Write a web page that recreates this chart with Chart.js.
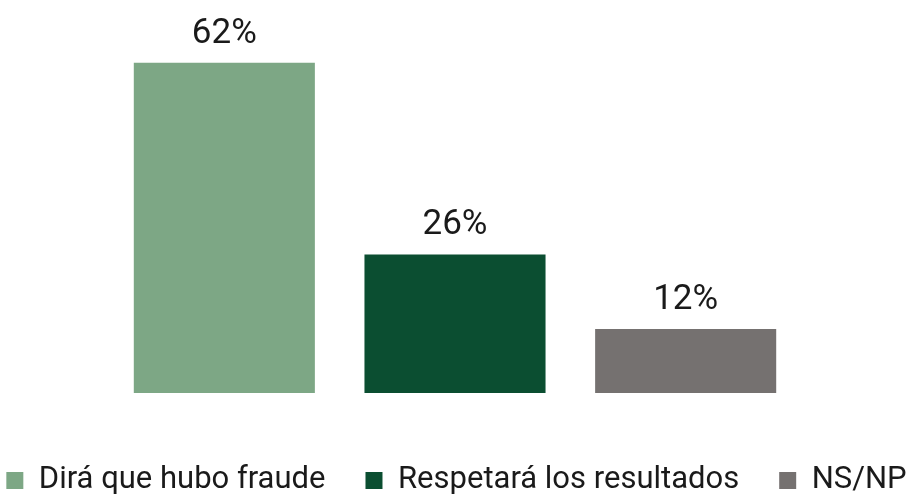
<!DOCTYPE html>
<html>
<head>
<meta charset="utf-8">
<script src="https://cdn.jsdelivr.net/npm/chart.js@4/dist/chart.umd.min.js"></script>
<style>
  html, body { margin: 0; padding: 0; background: #ffffff; }
  #wrap { width: 913px; height: 496px; position: relative; }
</style>
</head>
<body>
<div id="wrap"><canvas id="c"></canvas></div>
<script>
const categories = [''];
const seriesNames = ['Dirá que hubo fraude', 'Respetará los resultados', 'NS/NP'];
const seriesValues = [62, 26, 12];
const seriesColors = ['#7da785', '#0b4e31', '#757170'];

const datasets = seriesNames.map((name, i) => ({
  label: name,
  data: [seriesValues[i]],
  backgroundColor: seriesColors[i],
  borderWidth: 0,
  categoryPercentage: 1,
  barPercentage: 0.785,
  yAxisID: 'y'
}));

const valueLabels = {
  id: 'valueLabels',
  afterDatasetsDraw(chart) {
    const ctx = chart.ctx;
    ctx.save();
    ctx.font = '400 35px Roboto';
    ctx.fillStyle = '#1a1a1a';
    ctx.textAlign = 'center';
    ctx.textBaseline = 'alphabetic';
    chart.data.datasets.forEach((ds, i) => {
      const meta = chart.getDatasetMeta(i);
      meta.data.forEach((bar, j) => {
        ctx.fillText(ds.data[j] + '%', bar.x, bar.y - 20);
      });
    });
    ctx.restore();
  }
};

// keep the legend on one row (wide spacing) and trim its bottom space
const legendOneRow = {
  id: 'legendOneRow',
  beforeUpdate(chart) {
    const lg = chart.legend;
    if (lg && !lg._patched) {
      const origFit = lg.fit.bind(lg);
      lg.fit = function() {
        const mw = this.maxWidth;
        this.maxWidth = 10000;
        origFit();
        this.maxWidth = mw;
        this.width = mw;
        this.height -= 10;
      };
      const origDraw = lg.draw.bind(lg);
      lg.draw = function() {
        const l = this.left, r = this.right;
        this.left = l - 60;
        this.right = r + 60;
        origDraw();
        this.left = l;
        this.right = r;
      };
      lg._patched = true;
    }
  }
};

const hiddenAxis = {
  grid: { display: false },
  border: { display: false },
  ticks: { display: false }
};

new Chart(document.getElementById('c'), {
  type: 'bar',
  data: { labels: categories, datasets },
  plugins: [legendOneRow, valueLabels],
  options: {
    responsive: true,
    maintainAspectRatio: false,
    animation: false,
    layout: { padding: { left: 0, right: 0, top: 20, bottom: 0 } },
    scales: {
      x: Object.assign({}, hiddenAxis, {
        display: true,
        afterFit(scale) { scale.height = 32; }
      }),
      y: Object.assign({}, hiddenAxis, {
        display: true,
        position: 'left',
        min: 0,
        max: 70,
        afterFit(scale) { scale.width = 109; }
      }),
      yRight: Object.assign({}, hiddenAxis, {
        type: 'linear',
        display: true,
        position: 'right',
        min: 0,
        max: 70,
        afterFit(scale) { scale.width = 112; }
      })
    },
    plugins: {
      tooltip: { enabled: false },
      legend: {
        position: 'bottom',
        labels: {
          boxWidth: 17,
          boxHeight: 17,
          padding: 40,
          color: '#1a1a1a',
          font: { family: 'Roboto', size: 31 }
        }
      }
    }
  }
});
</script>
</body>
</html>
